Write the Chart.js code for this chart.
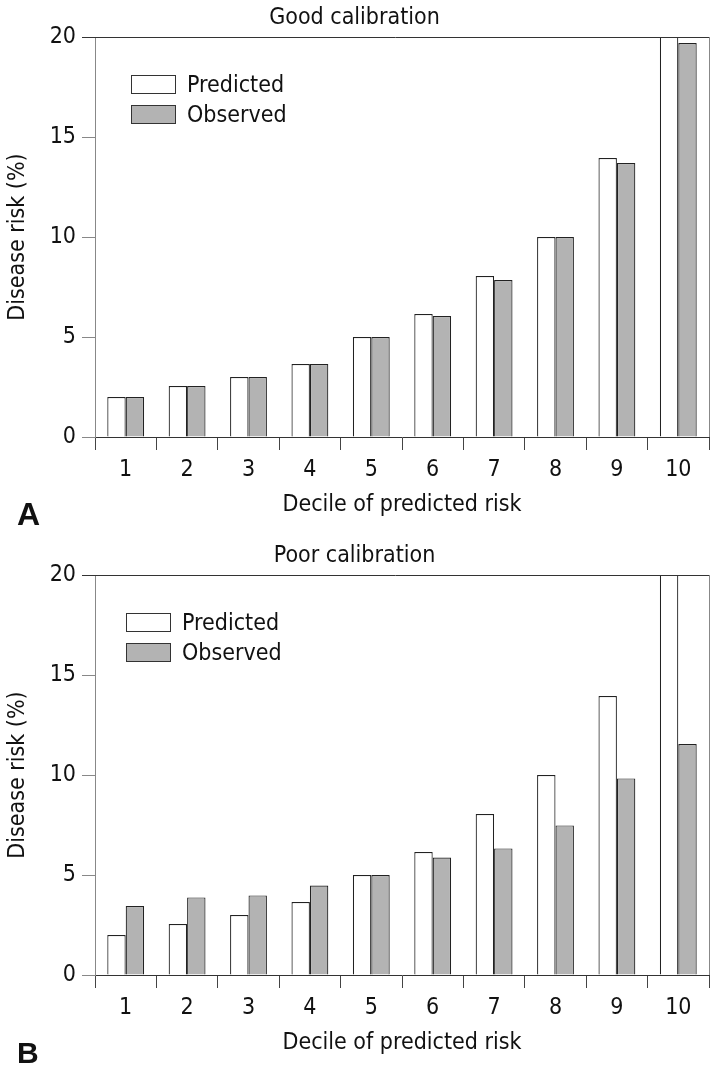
<!DOCTYPE html>
<html>
<head>
<meta charset="utf-8">
<title>Calibration</title>
<script src="https://cdn.jsdelivr.net/npm/chart.js@4/dist/chart.umd.min.js"></script>
<style>
  html, body { margin:0; padding:0; background:#fff; overflow:hidden; }
  body { width:716px; height:1069px; position:relative;
         font-family:"DejaVu Sans Condensed","Roboto",sans-serif; color:#111; }
  .panel { position:absolute; left:0; width:716px; height:538px; }
  .panel canvas { position:absolute; left:0; top:0; }
  .legend { position:absolute; font-size:23px; line-height:1; }
  .legend .row { display:flex; align-items:center; height:18px; margin-bottom:12px; }
  .legend .box { width:43px; height:17px; border:1px solid #333; margin-right:11px; }
  .letter { position:absolute; left:17px; font-family:"Liberation Sans","Arial",sans-serif;
            font-weight:bold; line-height:1; }
</style>
</head>
<body>
  <div class="panel" style="top:0">
    <canvas id="chartA" width="716" height="538"></canvas>
    <div class="legend" id="legA" style="left:131px; top:75px"></div>
  </div>
  <div class="letter" style="top:498px; font-size:32px">A</div>

  <div class="panel" style="top:538px">
    <canvas id="chartB" width="716" height="538"></canvas>
    <div class="legend" id="legB" style="left:126px; top:75px"></div>
  </div>
  <div class="letter" style="top:1038px; font-size:30px">B</div>

<script>
// 데이터 (그림에서 읽은 값, 단위 %)
const deciles = ["1","2","3","4","5","6","7","8","9","10"];
const yTicks = [0, 5, 10, 15, 20];

// A: good calibration
const goodPredicted = [2.0, 2.55, 3.0, 3.65, 5.0, 6.15, 8.05, 10.0, 13.95, 26];  // 10번째는 20 위로 잘림
const goodObserved  = [2.0, 2.55, 3.0, 3.65, 5.0, 6.05, 7.85, 10.0, 13.7, 19.7];

// B: poor calibration
const poorPredicted = [2.0, 2.55, 3.0, 3.65, 5.0, 6.15, 8.05, 10.0, 13.95, 26];
const poorObserved  = [3.45, 3.88, 3.98, 4.47, 5.0, 5.87, 6.33, 7.48, 9.83, 11.55];

const seriesNames = ["Predicted", "Observed"];
const FILL_PRED = "#ffffff", FILL_OBS = "#b3b3b3", EDGE = "#222222";

Chart.defaults.font.family = '"DejaVu Sans Condensed","Roboto",sans-serif';
Chart.defaults.font.size = 23;
Chart.defaults.color = "#111";

// 위쪽/오른쪽 테두리
const framePlugin = {
  id: "frame",
  afterDraw(chart){
    const {ctx, chartArea:a} = chart;
    ctx.save();
    ctx.lineWidth = 1;
    ctx.strokeStyle = "#333";
    ctx.beginPath();
    ctx.moveTo(a.left - 13, Math.round(a.top) + 0.5);
    ctx.lineTo(a.right, Math.round(a.top) + 0.5);
    ctx.stroke();
    ctx.strokeStyle = "#888";
    ctx.beginPath();
    ctx.moveTo(Math.round(a.right) + 0.5, a.top);
    ctx.lineTo(Math.round(a.right) + 0.5, a.bottom);
    ctx.stroke();
    ctx.restore();
  }
};

function makeChart(id, title, pred, obs){
  return new Chart(document.getElementById(id), {
    type: "bar",
    data: {
      labels: deciles,
      datasets: [
        { label: seriesNames[0], data: pred, backgroundColor: FILL_PRED, borderColor: EDGE, borderWidth: 1.2 },
        { label: seriesNames[1], data: obs,  backgroundColor: FILL_OBS,  borderColor: EDGE, borderWidth: 1.2 },
      ]
    },
    options: {
      responsive: false,
      animation: false,
      clip: 0,
      categoryPercentage: 0.6,
      barPercentage: 1.0,
      layout: { padding: { left:0, right:7, top:0, bottom:18 } },
      plugins: {
        legend: { display:false },
        tooltip: { enabled:false },
        title: { display:true, text:title, font:{ size:23, weight:"normal", lineHeight:1 },
                 padding:{ top:7, bottom:7 }, color:"#111" }
      },
      scales: {
        x: {
          afterFit(s){ s.height = 83; },
          grid: { offset:true, drawOnChartArea:false, drawTicks:true, tickLength:13, color:"#444" },
          border: { display:true, color:"#333" },
          ticks: { padding:6, color:"#111", font:{ size:23 } },
          title: { display:true, text:"Decile of predicted risk", font:{ size:23, lineHeight:1 },
                   padding:{ top:4, bottom:3 }, color:"#111" }
        },
        y: {
          min: 0, max: 20,
          afterFit(s){ s.width = 95; },
          afterBuildTicks(s){ s.ticks = yTicks.map(v => ({ value:v })); },
          grid: { drawOnChartArea:false, drawTicks:true, tickLength:13, color:"#888" },
          border: { display:true, color:"#888" },
          ticks: { padding:6, color:"#111", font:{ size:23 } },
          title: { display:true, text:"Disease risk (%)", font:{ size:23, lineHeight:1 },
                   padding:{ top:6.5, bottom:4 }, color:"#111" }
        }
      }
    },
    plugins: [framePlugin]
  });
}

// 범례는 HTML로 (데이터셋 이름/색 사용)
function renderLegend(elId, chart){
  const el = document.getElementById(elId);
  el.innerHTML = chart.data.datasets.map(ds =>
    `<div class="row"><div class="box" style="background:${ds.backgroundColor}"></div><span>${ds.label}</span></div>`
  ).join("");
}

const chartA = makeChart("chartA", "Good calibration", goodPredicted, goodObserved);
const chartB = makeChart("chartB", "Poor calibration", poorPredicted, poorObserved);
renderLegend("legA", chartA);
renderLegend("legB", chartB);
</script>
</body>
</html>
